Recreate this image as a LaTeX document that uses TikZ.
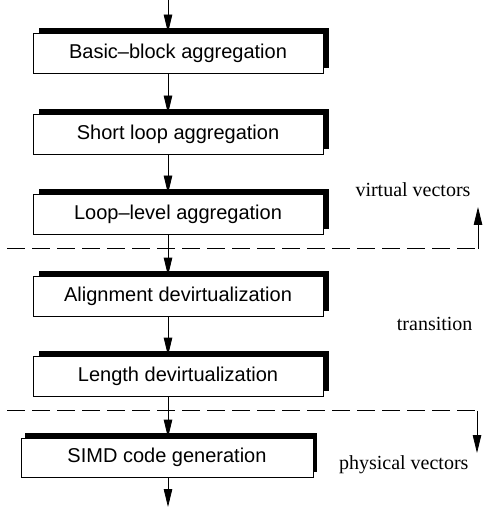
\documentclass[tikz,border=0pt]{standalone}
\usepackage{fontspec}
\setmainfont{Liberation Serif}
\setsansfont{Liberation Sans}
\usetikzlibrary{arrows.meta, shadows}

\begin{document}
\begin{tikzpicture}[x=1pt, y=-1pt,
    stage/.style={draw, fill=white, line width=0.8pt, minimum width=290pt, minimum height=40pt, inner sep=0pt,
        font=\sffamily\fontsize{20}{24}\selectfont,
        general shadow={fill=black, shadow xshift=#1, shadow yshift=5pt}},
    stage/.default=6pt,
    arr/.style={-{Triangle[length=18pt, width=8.5pt]}, line width=0.8pt},
    sep/.style={dash pattern=on 18pt off 7pt, line width=0.8pt},
    zone/.style={anchor=east, font=\fontsize{20}{24}\selectfont},
]
\useasboundingbox (0,0) rectangle (482,510);

% Stages
\node[stage] (bb) at (178,53) {Basic--block aggregation};
\node[stage] (sl) at (178,134) {Short loop aggregation};
\node[stage] (ll) at (178,214) {Loop--level aggregation};
\node[stage] (al) at (178,296) {Alignment devirtualization};
\node[stage] (ln) at (178,376) {Length devirtualization};
\node[stage=4pt, minimum width=292pt, minimum height=39pt] (simd) at (167,457.5) {SIMD code generation};

% Flow
\coordinate (axis) at (168,0);
\coordinate (in) at (168,0);
\coordinate (out) at (168,507);
\draw[arr] (in) -- (bb.north -| axis);
\draw[arr] (bb.south -| axis) -- (sl.north -| axis);
\draw[arr] (sl.south -| axis) -- (ll.north -| axis);
\draw[arr] (ll.south -| axis) -- (al.north -| axis);
\draw[arr] (al.south -| axis) -- (ln.north -| axis);
\draw[arr] (ln.south -| axis) -- (simd.north -| axis);
\draw[arr] (simd.south -| axis) -- (out);

% Separators
\coordinate (s1w) at (7,248.5);
\coordinate (s1e) at (478,248.5);
\coordinate (s1t) at (478,207);
\draw[sep] (s1w) -- (s1e);
\draw[arr] (s1e) -- (s1t);

\coordinate (s2w) at (7,410.5);
\coordinate (s2e) at (477,410.5);
\coordinate (s2b) at (477,453);
\draw[sep] (s2w) -- (s2e);
\draw[arr] (s2e) -- (s2b);

% Zone labels
\node[zone] (virt) at (474,190) {virtual vectors};
\node[zone] (trans) at (476,324) {transition};
\node[zone] (phys) at (472,465) {physical vectors};

\end{tikzpicture}
\end{document}
